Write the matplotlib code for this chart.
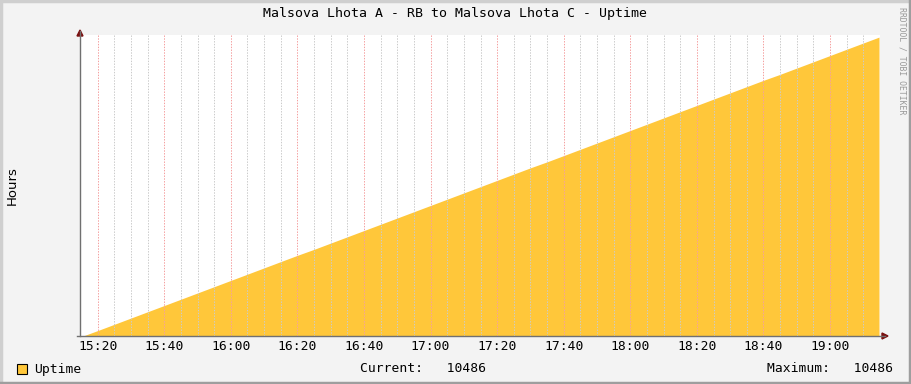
import matplotlib
matplotlib.use("Agg")
import matplotlib.pyplot as plt
from matplotlib.patches import Rectangle

# minutes after 15:15, uptime value
minutes = [0.6, 5, 10, 15, 20, 25, 30, 35, 40, 45, 50, 55, 60, 65, 70, 75, 80,
           85, 90, 95, 100, 105, 110, 115, 120, 125, 130, 135, 140, 145, 150,
           155, 160, 165, 170, 175, 180, 185, 190, 195, 200, 205, 210, 215,
           220, 225, 230, 235, 239.7]
uptime = [0, 190, 410, 630, 850, 1070, 1290, 1510, 1730, 1950, 2170, 2390,
          2610, 2830, 3040, 3260, 3480, 3700, 3920, 4140, 4360, 4580, 4800,
          5020, 5240, 5460, 5680, 5900, 6110, 6330, 6550, 6770, 6990, 7210,
          7430, 7650, 7870, 8090, 8310, 8530, 8750, 8970, 9180, 9400, 9620,
          9840, 10060, 10280, 10486]
tick_labels = ["15:20", "15:40", "16:00", "16:20", "16:40", "17:00",
               "17:20", "17:40", "18:00", "18:20", "18:40", "19:00"]
title = "Malsova Lhota A - RB to Malsova Lhota C - Uptime"
current_val = 10486
max_val = 10486

W, H = 911, 384
mono = "DejaVu Sans Mono"

fig = plt.figure(figsize=(W / 100, H / 100), dpi=100, facecolor="#f3f3f3")

# frame shading like rrdtool
fig.add_artist(plt.Line2D([0, 1], [1 - 1 / H, 1 - 1 / H], color="#cfcfcf", lw=2.5,
                          transform=fig.transFigure))
fig.add_artist(plt.Line2D([1 / W, 1 / W], [0, 1], color="#cfcfcf", lw=2.5,
                          transform=fig.transFigure))
fig.add_artist(plt.Line2D([0, 1], [1 / H, 1 / H], color="#9e9e9e", lw=2.5,
                          transform=fig.transFigure))
fig.add_artist(plt.Line2D([1 - 1 / W, 1 - 1 / W], [0, 1], color="#9e9e9e", lw=2.5,
                          transform=fig.transFigure))

x0, x1, y0, y1 = 81, 880, 336, 35
ax = fig.add_axes([x0 / W, (H - y0) / H, (x1 - x0) / W, (y0 - y1) / H])
ax.set_facecolor("white")
ax.set_xlim(0, 240)
ax.set_ylim(0, 10560)

ax.fill_between(minutes, uptime, 0, color="#ffc73a", lw=0, zorder=1)

# grid: minor every 5 min, major every 20 min
for m in range(5, 240, 5):
    if (m - 5) % 20 == 0:
        ax.axvline(m, color="#f4a0a0", lw=0.72, ls=(0, (1.4, 1.4)), zorder=2)
    else:
        ax.axvline(m, color="#cbcbcb", lw=0.72, ls=(0, (1.4, 1.4)), zorder=2)

for s in ax.spines.values():
    s.set_visible(False)
ax.set_xticks([])
ax.set_yticks([])

# axes lines with arrows
axc = "#707070"
fig.add_artist(plt.Line2D([(x0 - 1) / W, (x0 - 1) / W], [(H - y0) / H, (H - 31) / H],
                          color=axc, lw=1, transform=fig.transFigure))
fig.add_artist(plt.Line2D([(x0 - 4) / W, 885 / W], [(H - y0) / H, (H - y0) / H],
                          color=axc, lw=1, transform=fig.transFigure))
fig.add_artist(plt.Polygon([[(x0 - 4) / W, (H - 36) / H], [(x0 + 2) / W, (H - 36) / H],
                            [(x0 - 1) / W, (H - 30) / H]], closed=True,
                           color="#7a1010", transform=fig.transFigure))
fig.add_artist(plt.Polygon([[882 / W, (H - y0 + 3) / H], [882 / W, (H - y0 - 3) / H],
                            [888 / W, (H - y0) / H]], closed=True,
                           color="#7a1010", transform=fig.transFigure))

# tick labels
for i, lab in enumerate(tick_labels):
    m = 5 + 20 * i
    ax.text(m, -0.036, lab, transform=ax.get_xaxis_transform(), ha="center",
            va="center", family=mono, fontsize=9.4, color="black")

fig.text(455 / W, 1 - 14 / H, title, ha="center", va="center", family=mono,
         fontsize=9.5)
fig.text(12 / W, 1 - 186 / H, "Hours", rotation=90, ha="center", va="center",
         fontsize=9.5, family="DejaVu Sans")
fig.text(902 / W, 1 - 61 / H, "RRDTOOL / TOBI OETIKER", rotation=270, ha="center",
         va="center", family=mono, fontsize=5.9, color="#999999")

# legend
fig.add_artist(Rectangle((17 / W, (H - 374) / H), 10 / W, 10 / H,
                         facecolor="#ffc73a", edgecolor="black", lw=0.8,
                         transform=fig.transFigure))
fig.text(34 / W, 1 - 369 / H, "Uptime", ha="left", va="center", family=mono,
         fontsize=9.4)
fig.text(360 / W, 1 - 369 / H, f"Current:   {current_val}", ha="left", va="center",
         family=mono, fontsize=9.4)
fig.text(893 / W, 1 - 369 / H, f"Maximum:   {max_val}", ha="right", va="center",
         family=mono, fontsize=9.4)

fig.savefig("out.png", dpi=100, facecolor=fig.get_facecolor())
